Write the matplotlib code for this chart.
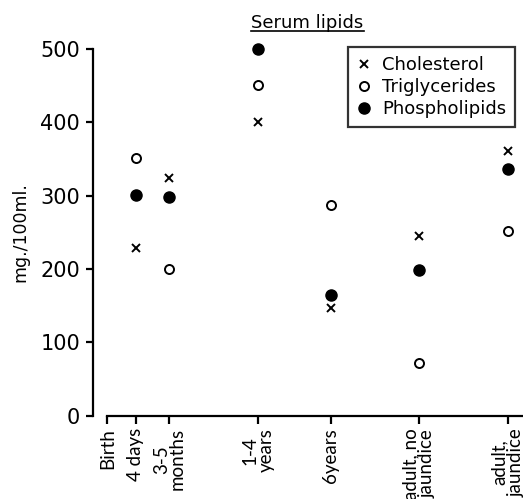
import matplotlib
matplotlib.use('Agg')
import matplotlib.pyplot as plt
from matplotlib.lines import Line2D

# categories along the age axis (uneven spacing as in the original figure)
ages = ['Birth', '4 days', '3-5\nmonths', '1-4\nyears', '6years',
        'adult, no\njaundice', 'adult,\njaundice']
age_pos = [0, 1, 2.2, 5.35, 7.93, 11.05, 14.2]

# values in mg./100ml. (no measurement at birth)
cholesterol = [None, 228, 324, 401, 147, 245, 361]
triglycerides = [None, 351, 200, 451, 287, 72, 252]
phospholipids = [None, 301, 298, 500, 164, 199, 337]

plt.rcParams['font.family'] = ['DejaVu Sans']

fig = plt.figure(figsize=(5.23, 4.99), dpi=100)
ax = fig.add_axes([92.7 / 523, 83.3 / 499, 1 - 92.7 / 523, (415.7 - 49) / 499])


def pts(vals):
    xs = [p for p, v in zip(age_pos, vals) if v is not None]
    ys = [v for v in vals if v is not None]
    return xs, ys


x, y = pts(cholesterol)
ax.plot(x, y, ls='none', marker='x', ms=5.5, mew=1.4, color='black',
        clip_on=False, label='Cholesterol')
x, y = pts(triglycerides)
ax.plot(x, y, ls='none', marker='o', ms=6.5, mew=1.4, mfc='white', mec='black',
        clip_on=False, label='Triglycerides')
x, y = pts(phospholipids)
ax.plot(x, y, ls='none', marker='o', ms=8, color='black',
        clip_on=False, label='Phospholipids')

ax.set_xlim(-0.52, 14.74)
ax.set_ylim(0, 500)

ax.spines['top'].set_visible(False)
ax.spines['right'].set_visible(False)
ax.spines['left'].set_linewidth(1.6)
ax.spines['bottom'].set_linewidth(1.6)
ax.spines['left'].set_bounds(0, 500)
ax.spines['bottom'].set_bounds(0, 14.74)

ax.set_yticks([0, 100, 200, 300, 400, 500])
ax.set_xticks(age_pos)
ax.set_xticklabels(ages, rotation=90, fontsize=13.5, family='Lato',
                   linespacing=0.95)
ax.tick_params(axis='y', labelsize=15, length=5, width=1.6, pad=4)
ax.tick_params(axis='x', length=6, width=1.6, pad=3)

fig.text(20 / 523, 1 - 232 / 499, 'mg./100ml.', rotation=90, fontsize=12.5,
         ha='center', va='center')

title = fig.text(307.5 / 523, 1 - 28 / 499, 'Serum lipids', fontsize=13,
                 ha='center', va='baseline')

leg = ax.legend(loc='upper right', bbox_to_anchor=(515 / 523, 1 - 47 / 499),
                bbox_transform=fig.transFigure, fontsize=13, frameon=True,
                fancybox=False, edgecolor='black', handlelength=0.8,
                handletextpad=0.6, borderpad=0.5, labelspacing=0.22,
                borderaxespad=0)
leg.get_frame().set_linewidth(1.6)

# underline the title
fig.canvas.draw()
bb = title.get_window_extent().transformed(fig.transFigure.inverted())
fig.add_artist(Line2D([bb.x0, bb.x1], [bb.y0 + 0.002, bb.y0 + 0.002],
                      transform=fig.transFigure, color='black', lw=1.2))

fig.savefig('out.png', dpi=100)
